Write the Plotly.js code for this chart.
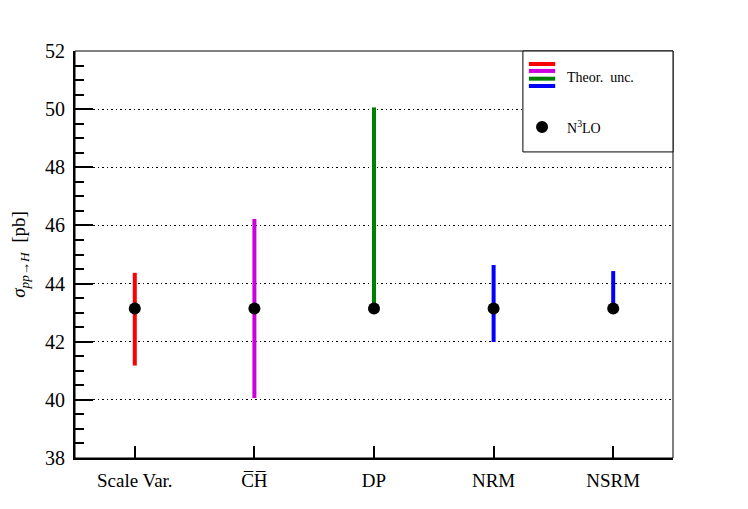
<!DOCTYPE html>
<html>
<head>
<meta charset="utf-8">
<script src="https://cdn.plot.ly/plotly-3.0.1.min.js"></script>
<style>
  html, body { margin: 0; padding: 0; background: #fff; }
  #chart { width: 748px; height: 509px; }
</style>
</head>
<body>
<div id="chart"></div>
<script>
// categories and values
const methods = ["Scale Var.", "C\u0305H\u0305", "DP", "NRM", "NSRM"];
const central = [43.14, 43.14, 43.14, 43.14, 43.14];
const upper = [44.37, 46.22, 50.06, 44.64, 44.43];
const lower = [41.18, 40.06, 43.14, 41.99, 43.14];
const colors = ["#ff0000", "#cc00dd", "#008000", "#0000ff", "#0000ff"];

const serif = "Liberation Serif, DejaVu Serif, serif";

const traces = methods.map((m, i) => ({
  type: "scatter",
  mode: "markers",
  x: [m],
  y: [central[i]],
  marker: { size: 1, color: "rgba(0,0,0,0)" },
  error_y: {
    type: "data",
    symmetric: false,
    array: [upper[i] - central[i]],
    arrayminus: [central[i] - lower[i]],
    color: colors[i],
    thickness: 4,
    width: 0,
  },
  showlegend: false,
  hoverinfo: "skip",
}));

traces.push({
  type: "scatter",
  mode: "markers",
  x: methods,
  y: central,
  marker: { size: 12, color: "#000" },
  showlegend: false,
});

// hand-drawn legend box (four coloured lines for one entry)
const legendLines = [0.968, 0.951, 0.932, 0.914].map((y, i) => ({
  type: "line", xref: "paper", yref: "paper",
  x0: 0.759, x1: 0.803, y0: y, y1: y,
  line: { color: colors[i], width: 4 },
}));

const layout = {
  width: 748,
  height: 509,
  margin: { l: 75, r: 75, t: 51, b: 51 },
  paper_bgcolor: "#fff",
  plot_bgcolor: "#fff",
  font: { family: serif, color: "#000", size: 15 },
  xaxis: {
    type: "category",
    range: [-0.5, 4.5],
    showgrid: false,
    showline: true,
    linecolor: "#000",
    linewidth: 2,
    ticks: "inside",
    ticklen: 12,
    tickwidth: 2,
    tickcolor: "#000",
    tickfont: { family: serif, size: 19 },
    ticklabelstandoff: 4,
    zeroline: false,
  },
  yaxis: {
    range: [38, 52],
    dtick: 2,
    showline: true,
    linecolor: "#000",
    linewidth: 2,
    ticks: "inside",
    ticklen: 18,
    tickwidth: 2,
    tickcolor: "#000",
    tickfont: { family: serif, size: 20 },
    ticklabelstandoff: 4,
    showgrid: true,
    gridcolor: "#000",
    gridwidth: 1,
    griddash: "1.5px,3px",
    zeroline: false,
    minor: { dtick: 0.5, ticks: "inside", ticklen: 9, tickwidth: 2, tickcolor: "#000", showgrid: false },
    title: {
      text: "<i>σ</i><sub><i>pp</i>→<i>H</i></sub>  [pb]",
      font: { family: serif, size: 19 },
      standoff: 14,
    },
  },
  shapes: [
    { type: "rect", xref: "paper", yref: "paper", x0: 0, x1: 1, y0: 0, y1: 1,
      line: { color: "#000", width: 1 }, layer: "above" },
    { type: "rect", xref: "paper", yref: "paper", x0: 0.749, x1: 1.0, y0: 0.752, y1: 1.0,
      fillcolor: "#fff", line: { color: "#000", width: 1 }, layer: "above" },
    ...legendLines,
    { type: "circle", xref: "paper", yref: "paper", xsizemode: "pixel", ysizemode: "pixel",
      xanchor: 0.781, yanchor: 0.813, x0: -6, x1: 6, y0: -6, y1: 6,
      fillcolor: "#000", line: { color: "#000", width: 0 }, layer: "above" },
  ],
  annotations: [
    { xref: "paper", yref: "paper", x: 0.819, y: 0.936, xanchor: "left", yanchor: "middle",
      text: "Theor.  unc.", showarrow: false, font: { family: serif, size: 14 } },
    { xref: "paper", yref: "paper", x: 0.819, y: 0.813, xanchor: "left", yanchor: "middle",
      text: "N<sup>3</sup>LO", showarrow: false, font: { family: serif, size: 14 } },
  ],
};

Plotly.newPlot("chart", traces, layout, { displayModeBar: false, staticPlot: true });
</script>
</body>
</html>
